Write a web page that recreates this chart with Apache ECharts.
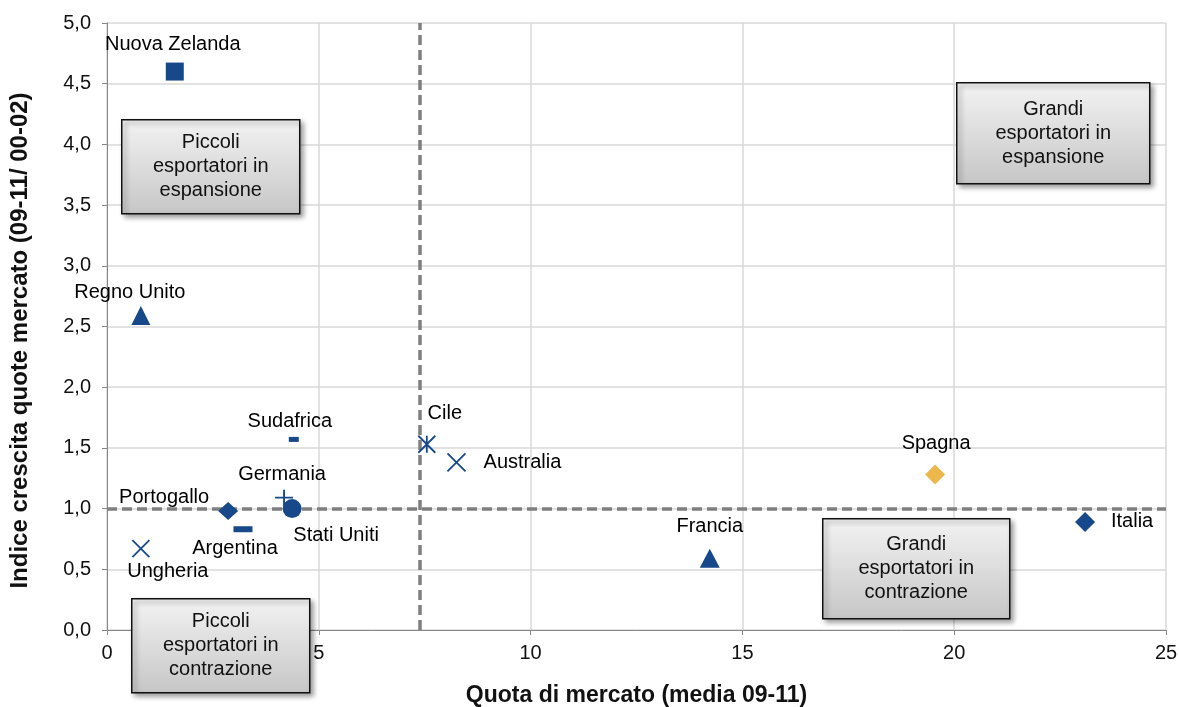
<!DOCTYPE html>
<html>
<head>
<meta charset="utf-8">
<script src="https://cdn.jsdelivr.net/npm/echarts@6/dist/echarts.min.js"></script>
<style>
  html, body { margin: 0; padding: 0; background: #fff; }
  #chart { width: 1179px; height: 707px; }
</style>
</head>
<body>
<div id="chart"></div>
<script>
// Export positioning of wine-producing countries
const countries = ['Nuova Zelanda', 'Regno Unito', 'Sudafrica', 'Germania', 'Stati Uniti',
  'Portogallo', 'Argentina', 'Ungheria', 'Cile', 'Australia', 'Francia', 'Spagna', 'Italia'];
// Market share (average 09-11)
const marketShare = [1.6, 0.8, 4.41, 4.18, 4.37, 2.86, 3.21, 0.8, 7.55, 8.25, 14.23, 19.55, 23.09];
// Market-share growth index (09-11 / 00-02)
const growthIndex = [4.60, 2.59, 1.57, 1.09, 1.00, 0.98, 0.83, 0.67, 1.53, 1.38, 0.59, 1.28, 0.89];

// Quadrant thresholds
const shareThreshold = 7.38;
const growthThreshold = 1.0;

const quadrantTexts = [
  'Piccoli\nesportatori in\nespansione',
  'Grandi\nesportatori in\nespansione',
  'Grandi\nesportatori in\ncontrazione',
  'Piccoli\nesportatori in\ncontrazione'
];

const BLUE = '#17498A';
const GOLD = '#EDB84B';
const FONT = '"Liberation Sans", Arial, sans-serif';

const plusPath = 'path://M0,8L16,8M8,0L8,16';
const crossPath = 'path://M0,0L16,16M16,0L0,16';
const starPath = 'path://M0,0L16,16M16,0L0,16M8,0L8,16';

// Marker and label styling per country
const markerStyle = {
  'Nuova Zelanda': { symbol: 'rect', size: 18, offset: [-2, -27] },
  'Regno Unito':   { symbol: 'triangle', size: [19, 19], offset: [-11, -23] },
  'Sudafrica':     { symbol: 'rect', size: [10, 5], offset: [-4, -18] },
  'Germania':      { symbol: plusPath, size: [18, 16], stroke: true, offset: [-2, -23] },
  'Stati Uniti':   { symbol: 'circle', size: 19, offset: [44, 27] },
  'Portogallo':    { symbol: 'diamond', size: [20, 18], offset: [-64, -14] },
  'Argentina':     { symbol: 'rect', size: [19, 6], offset: [-8, 19] },
  'Ungheria':      { symbol: crossPath, size: 17, stroke: true, offset: [27, 23] },
  'Cile':          { symbol: starPath, size: 17, stroke: true, offset: [18, -31] },
  'Australia':     { symbol: crossPath, size: 18, stroke: true, offset: [66, 0] },
  'Francia':       { symbol: 'triangle', size: [20, 19], offset: [0, -32] },
  'Spagna':        { symbol: 'diamond', size: 20, color: GOLD, offset: [1, -31] },
  'Italia':        { symbol: 'diamond', size: 20, offset: [47, 0] }
};

const points = countries.map((name, i) => {
  const s = markerStyle[name];
  const color = s.color || BLUE;
  return {
    name: name,
    value: [marketShare[i], growthIndex[i]],
    symbol: s.symbol,
    symbolSize: s.size,
    itemStyle: s.stroke
      ? { color: 'none', borderColor: color, borderWidth: 1.8, opacity: 1 }
      : { color: color, borderWidth: 0, opacity: 1 },
    label: {
      show: true,
      position: 'inside',
      offset: s.offset,
      formatter: '{b}',
      color: '#000',
      opacity: 1,
      fontSize: 20,
      fontFamily: FONT
    }
  };
});

// Annotation boxes for the four quadrants
const boxLayout = [
  { left: 121, top: 119, width: 178, height: 94 },
  { left: 956, top: 82, width: 193, height: 101 },
  { left: 822, top: 518, width: 187, height: 100 },
  { left: 131, top: 598, width: 178, height: 94 }
];

const boxes = boxLayout.map((b, i) => ({
  type: 'group',
  left: b.left,
  top: b.top,
  z: 100,
  children: [
    {
      type: 'rect',
      z: 100,
      shape: { x: 0, y: 0, width: b.width, height: b.height },
      style: {
        fill: {
          type: 'linear', x: 0, y: 0, x2: 0, y2: 1,
          colorStops: [{ offset: 0, color: '#f3f3f3' }, { offset: 1, color: '#c6c6c6' }]
        },
        stroke: '#111',
        lineWidth: 1.5,
        shadowBlur: 5,
        shadowOffsetX: 3,
        shadowOffsetY: 3,
        shadowColor: 'rgba(0,0,0,0.4)'
      }
    },
    {
      type: 'text',
      z: 101,
      style: {
        text: quadrantTexts[i],
        x: b.width / 2,
        y: b.height / 2,
        align: 'center',
        verticalAlign: 'middle',
        fontSize: 20,
        lineHeight: 24,
        fontFamily: FONT,
        fill: '#111'
      }
    }
  ]
}));

const chart = echarts.init(document.getElementById('chart'), null, { renderer: 'canvas' });

chart.setOption({
  animation: false,
  backgroundColor: '#fff',
  grid: { left: 107, right: 13, top: 23, bottom: 77, containLabel: false, outerBoundsMode: 'none' },
  xAxis: {
    type: 'value',
    min: 0, max: 25, interval: 5,
    name: 'Quota di mercato (media 09-11)',
    nameLocation: 'middle',
    nameGap: 54,
    nameTextStyle: { fontSize: 23, fontWeight: 'bold', fontFamily: FONT, color: '#111' },
    axisLine: { show: true, onZero: false, lineStyle: { color: '#888', width: 1 } },
    axisTick: { show: true, length: 5, lineStyle: { color: '#888' } },
    axisLabel: { fontSize: 20, fontFamily: FONT, color: '#111', margin: 13 },
    splitLine: { show: true, lineStyle: { color: '#d9d9d9', width: 1.5 } }
  },
  yAxis: {
    type: 'value',
    min: 0, max: 5, interval: 0.5,
    name: 'Indice crescita quote mercato (09-11/ 00-02)',
    nameLocation: 'middle',
    nameGap: 75,
    nameTextStyle: {
      fontSize: 24, fontWeight: 'bold', fontFamily: FONT, color: '#111',
      padding: [0, 28, 0, 0]
    },
    axisLine: { show: true, onZero: false, lineStyle: { color: '#888', width: 1 } },
    axisTick: { show: true, length: 5, lineStyle: { color: '#888' } },
    axisLabel: {
      fontSize: 20, fontFamily: FONT, color: '#111', margin: 16,
      formatter: v => v.toFixed(1).replace('.', ',')
    },
    splitLine: { show: true, lineStyle: { color: '#d9d9d9', width: 1.5 } }
  },
  series: [
    {
      type: 'scatter',
      data: points,
      z: 5,
      emphasis: { disabled: true },
      markLine: {
        silent: true,
        symbol: 'none',
        label: { show: false },
        lineStyle: { color: '#7f7f7f', width: 3.5, type: [10, 5], opacity: 1 },
        data: [{ xAxis: shareThreshold }, { yAxis: growthThreshold }]
      }
    }
  ],
  graphic: boxes
});
</script>
</body>
</html>
